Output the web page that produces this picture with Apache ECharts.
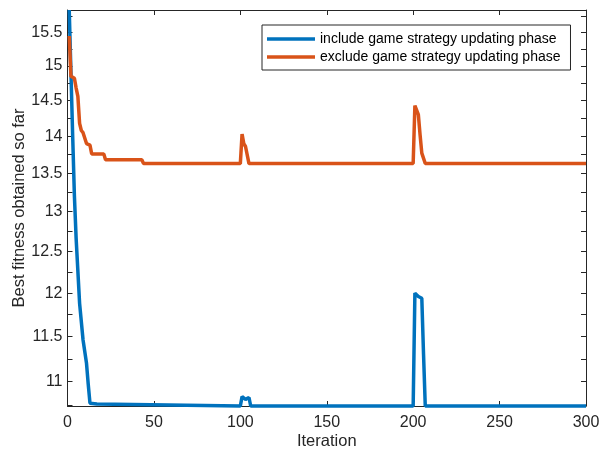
<!DOCTYPE html>
<html>
<head>
<meta charset="utf-8">
<script src="https://cdn.jsdelivr.net/npm/echarts@6/dist/echarts.min.js"></script>
<style>
  html, body { margin: 0; padding: 0; background: #ffffff; }
  #chart { width: 599px; height: 459px; }
</style>
</head>
<body>
<div id="chart"></div>
<script>
// Best fitness per iteration; points are listed where the value changes,
// flat stretches run straight between their end points.
const includeIter = [1, 2, 3, 4, 5, 6, 7, 8, 9, 10, 11, 12, 13, 17, 18,
  100, 101, 102, 103, 104, 105, 106,
  200, 201, 202, 203, 204, 205, 206, 207, 300];
const includeFitness = [15.85, 14.9, 14.0, 13.2, 12.66, 12.65, 11.88, 11.87, 11.46, 11.45, 11.2, 10.97, 10.77, 10.76, 10.74,
  10.74, 10.84, 10.84, 10.81, 10.83, 10.83, 10.74,
  10.74, 12.0, 12.0, 11.96, 11.95, 11.94, 11.3, 10.74, 10.74];

const excludeIter = [1, 2, 4, 5, 6, 7, 8, 9, 10, 11, 13, 14, 21, 22, 43, 44,
  100, 101, 102, 103, 104, 105,
  200, 201, 202, 203, 204, 205, 206, 207, 300];
const excludeFitness = [15.45, 14.85, 14.82, 14.68, 14.56, 14.18, 14.08, 14.05, 14.03, 13.9, 13.88, 13.76, 13.76, 13.68, 13.68, 13.63,
  13.63, 14.03, 13.9, 13.86, 13.85, 13.63,
  13.63, 14.43, 14.42, 14.3, 14.02, 13.77, 13.75, 13.63, 13.63];

const seriesNames = ['include game strategy updating phase', 'exclude game strategy updating phase'];
const seriesColors = ['#0072BD', '#D95319'];

// Axis extents and tick positions
const xMin = 0, xMax = 300, xStep = 50;
const yMin = 10.74, yMax = 15.85;
const yLabelValues = [11, 11.5, 12, 12.5, 13, 13.5, 14, 14.5, 15, 15.5];
const yTickValues = [10.75, 11, 11.25, 11.5, 11.75, 12, 12.25, 12.5, 12.75, 13, 13.25, 13.5,
  13.75, 14, 14.25, 14.5, 14.75, 15, 15.25, 15.5, 15.75];

const FONT = "'Liberation Sans', Arial, Helvetica, sans-serif";
const INK = '#262626';

function pairs(xs, ys) { return xs.map((x, i) => [x, ys[i]]); }

const chart = echarts.init(document.getElementById('chart'), null, { renderer: 'canvas' });

const axisLine = { show: true, onZero: false, lineStyle: { color: INK, width: 1 } };
const tickIn = { show: true, inside: true, length: 5, lineStyle: { color: INK, width: 1 } };

chart.setOption({
  animation: false,
  backgroundColor: '#ffffff',
  grid: { left: 67.5, right: 13, top: 10, bottom: 53, containLabel: false, outerBoundsMode: 'none' },
  legend: {
    orient: 'vertical',
    left: 262,
    top: 25,
    padding: [6, 10, 5, 5],
    itemGap: 2,
    itemWidth: 48,
    itemHeight: 3.5,
    icon: 'rect',
    borderColor: INK,
    borderWidth: 1,
    backgroundColor: '#ffffff',
    textStyle: { fontFamily: FONT, fontSize: 14, lineHeight: 16, color: '#000000' },
    data: seriesNames.map((n, i) => ({ name: n, itemStyle: { color: seriesColors[i] } }))
  },
  xAxis: [
    {
      type: 'value', position: 'bottom', min: xMin, max: xMax, interval: xStep,
      name: 'Iteration', nameLocation: 'middle', nameGap: 27, nameMoveOverlap: false,
      nameTextStyle: { fontFamily: FONT, fontSize: 16.5, color: INK },
      axisLine: axisLine, axisTick: tickIn,
      axisLabel: { margin: 9, fontFamily: FONT, fontSize: 16, color: INK },
      splitLine: { show: false }
    },
    {
      type: 'value', position: 'top', min: xMin, max: xMax, interval: xStep,
      axisLine: axisLine, axisTick: tickIn,
      axisLabel: { show: false }, splitLine: { show: false }
    }
  ],
  yAxis: [
    {
      type: 'log', position: 'left', min: yMin, max: yMax,
      name: 'Best fitness obtained so far', nameLocation: 'middle', nameGap: 40, nameMoveOverlap: false,
      nameTextStyle: { fontFamily: FONT, fontSize: 16.5, color: INK },
      axisLine: axisLine,
      axisTick: Object.assign({}, tickIn, { customValues: yTickValues }),
      axisLabel: {
        margin: 5, fontFamily: FONT, fontSize: 16, color: INK,
        customValues: yLabelValues,
        formatter: v => String(Math.round(v * 100) / 100)
      },
      splitLine: { show: false }, minorTick: { show: false }
    },
    {
      type: 'log', position: 'right', min: yMin, max: yMax,
      axisLine: axisLine,
      axisTick: Object.assign({}, tickIn, { customValues: yTickValues }),
      axisLabel: { show: false, customValues: yLabelValues },
      splitLine: { show: false }
    }
  ],
  series: [
    {
      name: seriesNames[0], type: 'line', xAxisIndex: 0, yAxisIndex: 0,
      data: pairs(includeIter, includeFitness),
      showSymbol: false, symbol: 'none', clip: false,
      lineStyle: { color: seriesColors[0], width: 3.5 },
      itemStyle: { color: seriesColors[0] }
    },
    {
      name: seriesNames[1], type: 'line', xAxisIndex: 0, yAxisIndex: 0,
      data: pairs(excludeIter, excludeFitness),
      showSymbol: false, symbol: 'none', clip: false,
      lineStyle: { color: seriesColors[1], width: 3.5 },
      itemStyle: { color: seriesColors[1] }
    }
  ]
});
</script>
</body>
</html>
